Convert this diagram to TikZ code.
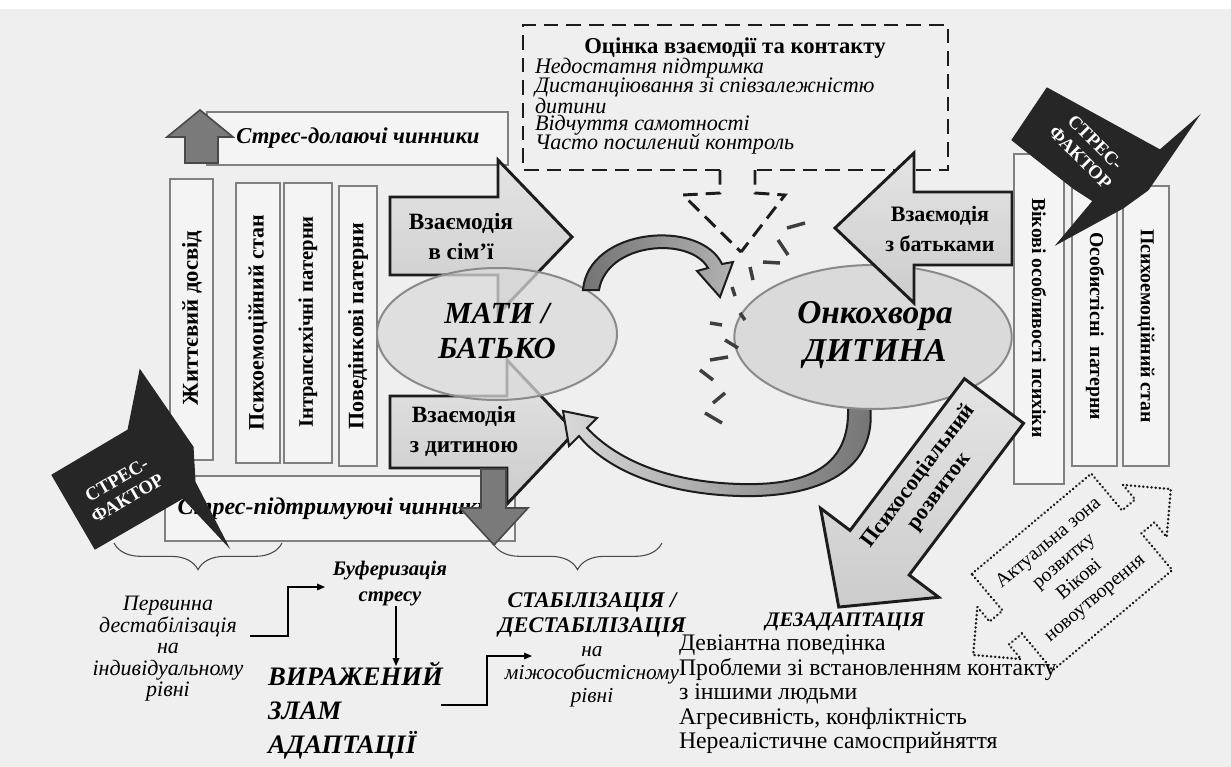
\documentclass[tikz,border=0pt]{standalone}
\usepackage{fontspec}
\setmainfont{Liberation Serif}
\usetikzlibrary{arrows.meta,decorations.pathreplacing,shapes.geometric}
\definecolor{bgc}{HTML}{EFEFEF}
\definecolor{barfill}{HTML}{F4F4F4}
\definecolor{barline}{HTML}{808080}
\definecolor{dk}{HTML}{1C1C1C}
\definecolor{arrA}{HTML}{E4E4E4}
\definecolor{arrB}{HTML}{CCCCCC}
\definecolor{ellfill}{HTML}{DADADA}
\definecolor{ellline}{HTML}{8A8A8A}
\definecolor{sfc}{HTML}{262626}
\definecolor{midg}{HTML}{7A7A7A}
\newcommand{\fpx}[2]{\fontsize{#1}{#2}\selectfont}
\begin{document}
\begin{tikzpicture}[x=0.75pt,y=-0.75pt,
  every node/.style={inner sep=0pt, outer sep=0pt},
  barbox/.style={draw=barline, fill=barfill, line width=1.9pt},
  blockarrow/.style={draw=dk, line width=2.2pt, line join=miter, top color=arrA, bottom color=arrB},
  darkarrow/.style={draw=dk!80, line width=1.2pt, fill=midg},
  dashbox/.style={draw=dk, line width=2.2pt, dash pattern=on 11pt off 6pt},
  sfshape/.style={fill=sfc, draw=sfc, line width=0.8pt, line join=miter},
  sftext/.style={text=white, font=\bfseries\fpx{14pt}{16pt}, align=center},
  conn/.style={draw=black, line width=0.8pt, -{Triangle[length=6pt,width=5pt]}},
  brace/.style={draw=dk!80, line width=0.8pt, decorate, decoration={brace, amplitude=20pt, mirror}},
]
\useasboundingbox (0,0) rectangle (1231,767);
\fill[bgc] (0,0) rectangle (1231,767);
\fill[white] (0,0) rectangle (1231,9);

% ---------- evaluation dashed box ----------
\draw[dashbox] (720,170) -- (523,170) -- (523,25) -- (948,25) -- (948,170) -- (755,170);
\draw[dashbox] (720,170) -- (720,193) -- (683,195) -- (741,252);
\draw[dashbox] (755,170) -- (755,193) -- (785,195) -- (741,252);
\node[font=\bfseries\fpx{17pt}{17pt}] (evt) at (735,48) {Оцінка взаємодії та контакту};
\node[anchor=west, font=\itshape\fpx{16.6pt}{17pt}] (ev1) at (535,68) {Недостатня підтримка};
\node[anchor=west, font=\itshape\fpx{16.6pt}{17pt}] (ev2) at (535,87) {Дистанціювання зі співзалежністю};
\node[anchor=west, font=\itshape\fpx{16.6pt}{17pt}] (ev3) at (535,106) {дитини};
\node[anchor=west, font=\itshape\fpx{16.6pt}{17pt}] (ev4) at (535,125) {Відчуття самотності};
\node[anchor=west, font=\itshape\fpx{16.6pt}{17pt}] (ev5) at (535,144) {Часто посилений контроль};

% ---------- left frames ----------
\draw[barbox] (207,112) rectangle (508,165);
\node[font=\bfseries\itshape\fpx{17pt}{17pt}] (cope) at (358,138) {Стрес-долаючі чинники};
\draw[darkarrow] (185,163) -- (185,137) -- (167,137) -- (200,110) -- (233,137) -- (218,137) -- (218,163) -- cycle;

\draw[barbox] (165,476) rectangle (515,541);
\node[font=\bfseries\itshape\fpx{18pt}{18pt}] (supp) at (334,509) {Стрес-підтримуючі чинники};

% ---------- left bars ----------
\draw[barbox] (170,179) rectangle (213,460);
\node[rotate=90, font=\bfseries\fpx{17pt}{17pt}] (lb1) at (192,318) {Життєвий досвід};
\draw[barbox] (236,183) rectangle (280,463);
\node[rotate=90, font=\bfseries\fpx{16.5pt}{16.5pt}] (lb2) at (258,323) {Психоемоційний стан};
\draw[barbox] (284,183) rectangle (332,463);
\node[rotate=90, font=\bfseries\fpx{15.5pt}{15.5pt}] (lb3) at (308,322) {Інтрапсихічні патерни};
\draw[barbox] (339,186) rectangle (377,466);
\node[rotate=90, font=\bfseries\fpx{16.5pt}{16.5pt}] (lb4) at (358,326) {Поведінкові патерни};

% ---------- left block arrows ----------
\draw[blockarrow] (390,197) -- (498,197) -- (498,160) -- (572,237) -- (498,314) -- (498,275) -- (390,275) -- cycle;
\node[font=\bfseries\fpx{17.5pt}{17.5pt}, align=center] (fam) at (461,237) {Взаємодія\\[5pt]в сім’ї};
\draw[blockarrow] (390,396) -- (507,396) -- (507,360) -- (575,432) -- (507,504) -- (507,468) -- (390,468) -- cycle;
\node[font=\bfseries\fpx{17.5pt}{17.5pt}, align=center] (chl) at (464,431) {Взаємодія\\[5pt]з дитиною};
\draw[darkarrow] (481,469) -- (506,469) -- (506,508) -- (528,508) -- (494,545) -- (460,508) -- (481,508) -- cycle;

% ---------- mother ellipse ----------
\node[ellipse, draw=ellline, fill=ellfill, fill opacity=0.75, line width=1.5pt, minimum width=180pt, minimum height=99pt] (mati) at (497,334) {};
\node[font=\bfseries\itshape\fpx{23pt}{26pt}, align=center] (matit) at (497,331) {МАТИ /\\БАТЬКО};

% ---------- curved arrows ----------
\draw[draw=dk, line width=1.5pt, line join=miter, left color=black!55, right color=black!30]
  (583,290) .. controls (588,228) and (700,218) .. (722,264) -- (733,262) -- (720,297) -- (697,271) -- (708,268) .. controls (690,236) and (607,242) .. (599,290) -- cycle;
\draw[draw=dk, line width=1.5pt, line join=miter, left color=black!15, right color=black!55]
  (870,405) .. controls (878,470) and (820,498) .. (740,496) .. controls (660,494) and (605,468) .. (579,436) -- (569,446) -- (563,411) -- (597,418) -- (587,428) .. controls (615,458) and (665,482) .. (740,484) .. controls (810,486) and (850,465) .. (848,408) -- cycle;

% ---------- child ellipse ----------
\node[ellipse, draw=ellline, fill=ellfill, line width=1.5pt, minimum width=208pt, minimum height=108pt] (child) at (873,337) {};
\node[font=\bfseries\itshape\fpx{25pt}{28.5pt}, align=center] (childt) at (875,335) {Онкохвора\\ДИТИНА};

% ---------- broken contact dashes ----------
\foreach \a/\b/\c/\d in {787/228/805/223, 778/240/788/255, 763/262/780/263, 750/267/753/280, 732/287/735/296,
  740/313/745/320, 710/323/722/325, 725/340/738/348, 710/360/728/357, 700/370/713/380, 713/403/725/393, 705/413/722/423}
  \draw[line width=2.6pt, draw=dk!85] (\a,\b) -- (\c,\d);

% ---------- parents arrow ----------
\draw[blockarrow] (1012,192) -- (914,192) -- (914,153) -- (835,228) -- (914,303) -- (914,265) -- (1012,265) -- cycle;
\node[font=\bfseries\fpx{16.5pt}{16.5pt}, align=center] (par) at (940,229) {Взаємодія\\[6pt]з батьками};

% ---------- right bars ----------
\draw[barbox] (1014,154) rectangle (1064,484);
\node[rotate=-90, font=\bfseries\fpx{14.8pt}{14.8pt}] (rb1) at (1039,318) {Вікові особливості психіки};
\draw[barbox] (1072,185) rectangle (1117,466);
\node[rotate=-90, font=\bfseries\fpx{14.8pt}{14.8pt}] (rb2) at (1095,326) {Особистісні\ \ патерни};
\draw[barbox] (1123,186) rectangle (1169,466);
\node[rotate=-90, font=\bfseries\fpx{14.8pt}{14.8pt}] (rb3) at (1146,326) {Психоемоційний стан};

% ---------- stress factors ----------
\fill[sfshape] (1012,140) -- (1047,88) -- (1160,150) -- (1198,117) -- (1148,190) -- (1123,208) -- (1057,244) -- (1093,201) -- (1073,188) -- cycle;
\node[sftext, rotate=-45] (sfr) at (1088,150) {СТРЕС-\\ФАКТОР};
\fill[sfshape] (52,475) -- (95,549) -- (183,498) -- (228,546) -- (195,482) -- (193,447) -- (140,370) -- (128,430) -- cycle;
\node[sftext, rotate=30] (sfl) at (122,489) {СТРЕС-\\ФАКТОР};

% ---------- psychosocial arrow ----------
\begin{scope}[shift={(994,401)}, rotate=53]
\draw[blockarrow] (0,-37) -- (-190,-37) -- (-190,-74) -- (-258,0) -- (-190,74) -- (-190,37) -- (0,37) -- cycle;
\end{scope}
\node[rotate=53, font=\bfseries\fpx{16.5pt}{19pt}, align=center] (psy) at (929,484) {Психосоціальний\\розвиток};

% ---------- dotted double callout ----------
\begin{scope}[shift={(1072,572)}, rotate=40]
\draw[draw=dk, line width=2pt, dash pattern=on 0.1pt off 3pt, line cap=round]
 (-78,-63) -- (78,-63) -- (78,-15) -- (95,-15) -- (95,-34) -- (129,0) -- (95,34) -- (95,15) -- (78,15) -- (78,63) -- (-78,63) -- (-78,15) -- (-95,15) -- (-95,34) -- (-129,0) -- (-95,-34) -- (-95,-15) -- (-78,-15) -- cycle;
\end{scope}
\node[rotate=40, font=\fpx{14.8pt}{18pt}, align=center] (zone) at (1072,571) {Актуальна зона\\розвитку\\Вікові\\новоутворення};

% ---------- braces ----------
\draw[brace] (114,543) -- (282,543);
\draw[brace] (493,543) -- (662,543);

% ---------- bottom-left texts ----------
\node[font=\itshape\fpx{16.5pt}{16.1pt}, align=center] (perv) at (168,649) {Первинна\\дестабілізація\\на\\індивідуальному\\рівні};
\node[font=\bfseries\itshape\fpx{15.5pt}{19.5pt}, align=center] (buf) at (390,584) {Буферизація\\стресу};
\node[anchor=west, font=\bfseries\itshape\fpx{20pt}{25.5pt}, align=left] (zlam) at (268,711) {ВИРАЖЕНИЙ\\ЗЛАМ\\АДАПТАЦІЇ};
\node[font=\bfseries\itshape\fpx{16.8pt}{18.75pt}, align=center] (stab) at (592,615) {СТАБІЛІЗАЦІЯ /\\ДЕСТАБІЛІЗАЦІЯ};
\node[font=\itshape\fpx{16pt}{17.25pt}, align=center] (mizh) at (592,677) {на\\міжособистісному\\рівні};

\coordinate (c1) at (250,636);
\coordinate (c2) at (325,587);
\draw[conn] (c1) -- (288,636) -- (288,587) -- (c2);
\coordinate (c3) at (396,606);
\coordinate (c4) at (396,666);
\draw[conn] (c3) -- (c4);
\coordinate (c5) at (441,705);
\coordinate (c6) at (532,656);
\draw[conn] (c5) -- (487,705) -- (487,656) -- (c6);

% ---------- maladaptation ----------
\node[font=\bfseries\itshape\fpx{15.5pt}{15pt}] (dez) at (845,622) {ДЕЗАДАПТАЦІЯ};
\node[anchor=north west, font=\fpx{17.8pt}{18.4pt}, align=left] (list) at (679,635) {Девіантна поведінка\\Проблеми зі встановленням контакту\\з іншими людьми\\Агресивність, конфліктність\\Нереалістичне самосприйняття};
\end{tikzpicture}
\end{document}
